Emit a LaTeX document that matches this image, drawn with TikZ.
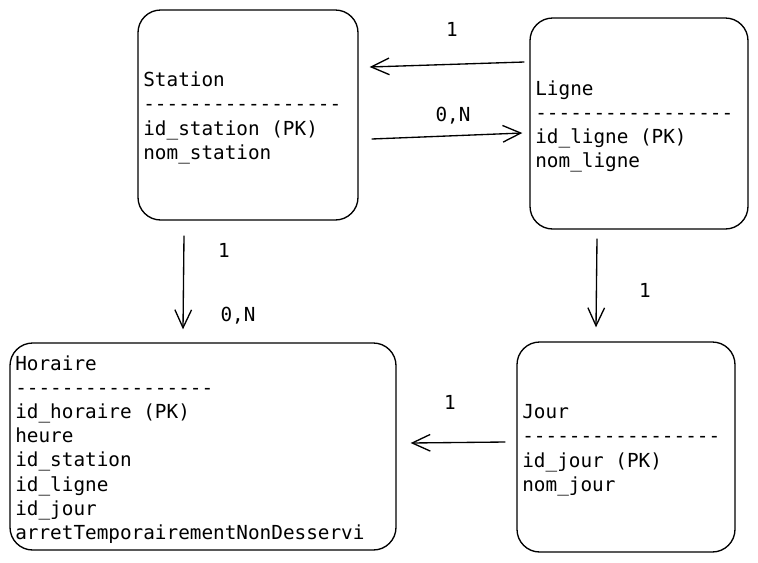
\documentclass[tikz,border=0pt]{standalone}
\usepackage{fontspec}
\setmonofont{DejaVu Sans Mono}
\usetikzlibrary{arrows.meta}

\newcommand{\colsp}{\hphantom{0}}
\newcommand{\toppad}{\rule{0pt}{15.5pt}}

\tikzset{every picture/.style={line width=1pt}}
\tikzset{
  entity/.style={draw, rounded corners=17pt, align=left, inner xsep=4pt, inner ysep=0pt,
    font=\ttfamily\fontsize{14.5}{18.1}\selectfont},
  card/.style={inner sep=0pt, font=\ttfamily\fontsize{14.5}{18.1}\selectfont},
  link/.style={-{Straight Barb[length=13.5pt,width=12.5pt]}},
}

\begin{document}
\begin{tikzpicture}[x=0.75pt,y=0.75pt,yscale=-1,xscale=1]
	\useasboundingbox (0,0) rectangle (758,562);

	%Rounded Rect [id:station]
	\node [entity, text width=157pt, minimum height=157.5pt] (station) at (248,115) {\toppad Station\\-----------------\\id\_station\colsp(PK)\\nom\_station};
	%Rounded Rect [id:ligne]
	\node [entity, text width=155.5pt, minimum height=158.25pt] (ligne) at (639,123.5) {\toppad Ligne\\-----------------\\id\_ligne\colsp(PK)\\nom\_ligne};
	%Rounded Rect [id:jour]
	\node [entity, text width=155.5pt, minimum height=157.5pt] (jour) at (626,447) {\toppad Jour\\-----------------\\id\_jour\colsp(PK)\\nom\_jour};
	%Rounded Rect [id:horaire]
	\node [entity, text width=281.5pt, minimum height=155.25pt] (horaire) at (203,446.5) {\toppad Horaire\\-----------------\\id\_horaire\colsp(PK)\\heure\\id\_station\\id\_ligne\\id\_jour\\arretTemporairementNonDesservi};

	%Straight Lines [id:ligne-station]
	\draw [link] ([shift={(-5,-61.5)}]ligne.west) -- ([shift={(11,-48)}]station.east) ;
	%Straight Lines [id:station-ligne]
	\draw [link] ([shift={(13,24)}]station.east) -- ([shift={(-7,9.5)}]ligne.west) ;
	%Straight Lines [id:ligne-jour]
	\draw [link] ([shift={(-42,9)}]ligne.south) -- ([shift={(-30,-14)}]jour.north) ;
	%Straight Lines [id:jour-horaire]
	\draw [link] ([shift={(-11,-5)}]jour.west) -- ([shift={(14,-3.5)}]horaire.east) ;
	%Straight Lines [id:station-horaire]
	\draw [link] ([shift={(-64,15)}]station.south) -- ([shift={(-20,-13)}]horaire.north) ;

	% Text Node
	\node [card] (c1) at (452,29) {1};
	% Text Node
	\node [card] (c2) at (453,116) {0,N};
	% Text Node
	\node [card] (c3) at (645,290) {1};
	% Text Node
	\node [card] (c4) at (450,402) {1};
	% Text Node
	\node [card] (c5) at (224,250) {1};
	% Text Node
	\node [card] (c6) at (238,316) {0,N};

\end{tikzpicture}
\end{document}
